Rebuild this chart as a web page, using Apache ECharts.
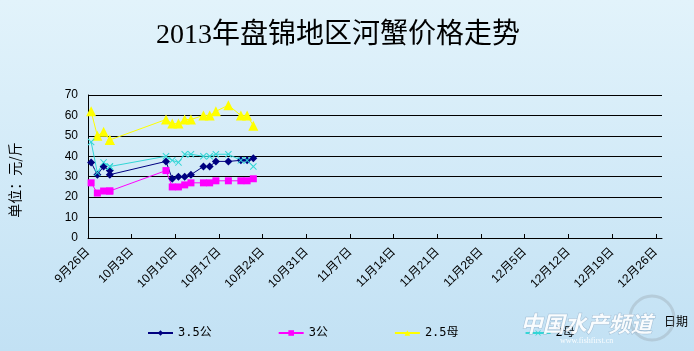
<!DOCTYPE html>
<html>
<head>
<meta charset="utf-8">
<script src="https://cdn.jsdelivr.net/npm/echarts@6/dist/echarts.min.js"></script>
<style>
html,body{margin:0;padding:0;background:#d2eaf8;}
#main{width:694px;height:351px;}
</style>
</head>
<body>
<div id="main"></div>
<script>
// 日期(同一天可能有两次报价)
var dates = ['2013-09-26','2013-09-27','2013-09-28','2013-09-29','2013-09-29',
    '2013-10-08','2013-10-09','2013-10-10','2013-10-11','2013-10-12','2013-10-14',
    '2013-10-15','2013-10-16','2013-10-18','2013-10-20','2013-10-21','2013-10-22'];
var seriesNames = ['3.5公','3公','2.5母','2母'];
var price35Gong = [37,31,35,33,31,37.5,29,30,30,31,35,35,37.5,37.5,38,38,39];
var price3Gong = [27,22,23,23,23,33,25,25,26,27,27,27,28,28,28,28,29];
var price25Mu = [62,50,52,48,48,58,56,56,58,58,60,60,62,65,60,60,55];
var price2Mu = [47,32,37,35,35,40,38,37,41,41,40,40,41,41,38,38,35];
// 横轴刻度(每7天)
var xTickLabels = ['9月26日','10月3日','10月10日','10月17日','10月24日','10月31日','11月7日',
    '11月14日','11月21日','11月28日','12月5日','12月12日','12月19日','12月26日'];
var yTicks = [0,10,20,30,40,50,60,70];

var startDay = Date.parse(dates[0]);
// 点画在当天的中间
function dayPos(d) {
    return (Date.parse(d) - startDay) / 86400000 + 0.5;
}
function pairs(values) {
    return values.map(function (v, i) { return [dayPos(dates[i]), v]; });
}
var tickDays = xTickLabels.map(function (t, i) { return i * 7; });

var xMark = 'path://M0,1L1,0L5,4L9,0L10,1L6,5L10,9L9,10L5,6L1,10L0,9L4,5Z';
var colors = ['#000080','#ff00ff','#ffff00','#33d6d6'];
var symbols = ['diamond','rect','triangle',xMark];
var sizes = [8,7,10,7];
var allValues = [price35Gong, price3Gong, price25Mu, price2Mu];

var myChart = echarts.init(document.getElementById('main'));
var option = {
    animation: false,
    backgroundColor: new echarts.graphic.LinearGradient(0, 0, 0, 1, [
        {offset: 0, color: '#e2f3fb'},
        {offset: 1, color: '#c2e1f4'}
    ]),
    title: {
        text: '2013年盘锦地区河蟹价格走势',
        left: 151,
        top: 17,
        textStyle: {
            fontFamily: "'Liberation Serif','Noto Sans CJK SC'",
            fontSize: 28,
            fontWeight: 'normal',
            color: '#000'
        }
    },
    legend: {
        left: 142,
        top: 322,
        itemGap: 66,
        itemWidth: 25,
        itemHeight: 7,
        textStyle: {
            fontFamily: "'DejaVu Sans Mono','Noto Sans CJK SC'",
            fontSize: 12,
            color: '#000'
        },
        data: seriesNames
    },
    grid: {
        left: 88,
        right: 32,
        top: 95,
        bottom: 113
    },
    xAxis: {
        type: 'value',
        min: 0,
        max: 92,
        interval: 7,
        splitLine: {show: false},
        axisLine: {lineStyle: {color: '#000', width: 1}},
        axisTick: {
            inside: true,
            length: 4,
            customValues: tickDays,
            lineStyle: {color: '#000'}
        },
        axisLabel: {
            rotate: 45,
            customValues: tickDays,
            fontSize: 12,
            color: '#000',
            margin: 12,
            fontFamily: "'Liberation Sans','Noto Sans CJK SC'",
            formatter: function (v) {
                return xTickLabels[Math.round(v / 7)] || '';
            }
        }
    },
    yAxis: {
        type: 'value',
        min: yTicks[0],
        max: yTicks[yTicks.length - 1],
        interval: 10,
        axisLine: {show: true, lineStyle: {color: '#000'}},
        axisTick: {show: false},
        splitLine: {lineStyle: {color: '#000', width: 1}},
        axisLabel: {
            fontSize: 12,
            color: '#000',
            margin: 10,
            fontFamily: "'Liberation Sans'"
        }
    },
    graphic: [
        {
            type: 'text',
            x: 15,
            y: 180,
            rotation: Math.PI / 2,
            style: {
                text: '单位：元/斤',
                fontSize: 14,
                fontFamily: "'Noto Sans CJK SC'",
                fill: '#000',
                textAlign: 'center',
                textVerticalAlign: 'middle'
            }
        },
        {
            type: 'text',
            left: 664,
            top: 315,
            style: {
                text: '日期',
                fontSize: 12,
                fontFamily: "'Noto Sans CJK SC'",
                fill: '#000'
            }
        },
        {
            type: 'circle',
            shape: {cx: 652, cy: 318, r: 22},
            style: {fill: 'none', stroke: 'rgba(150,160,170,0.35)', lineWidth: 3},
            z: 100
        },
        {
            type: 'text',
            left: 520,
            top: 312,
            style: {
                text: '中国水产频道',
                fontSize: 22,
                fontStyle: 'italic',
                fontWeight: 'bold',
                fontFamily: "'Noto Sans CJK SC'",
                fill: 'rgba(255,255,255,0.9)',
                stroke: 'rgba(120,150,180,0.5)',
                lineWidth: 1
            },
            z: 100
        },
        {
            type: 'text',
            left: 560,
            top: 337,
            style: {
                text: 'www.fishfirst.cn',
                fontSize: 8,
                fontFamily: "'Liberation Serif'",
                fill: 'rgba(255,255,255,0.9)'
            },
            z: 100
        }
    ],
    series: seriesNames.map(function (name, i) {
        return {
            name: name,
            type: 'line',
            data: pairs(allValues[i]),
            symbol: symbols[i],
            symbolSize: sizes[i],
            showAllSymbol: true,
            lineStyle: {color: colors[i], width: 1},
            itemStyle: {color: colors[i]}
        };
    })
};
myChart.setOption(option);
</script>
</body>
</html>
